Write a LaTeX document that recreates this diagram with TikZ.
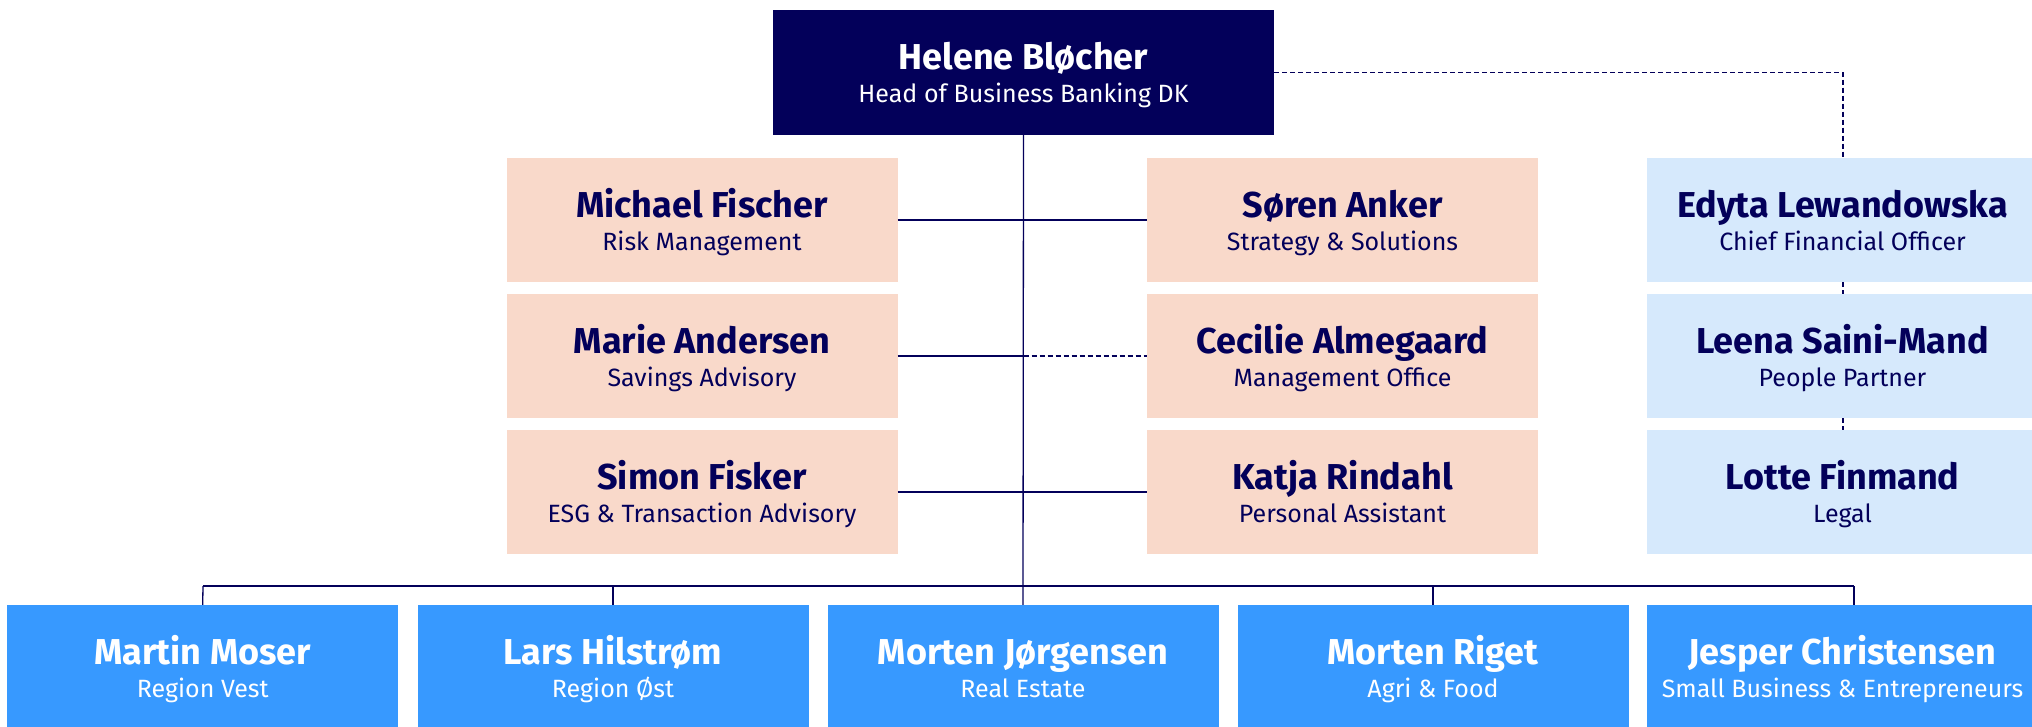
\documentclass[tikz,border=0pt]{standalone}
\usepackage{fontspec}
\setmainfont{Fira Sans}
\definecolor{navy}{RGB}{3,0,90}
\definecolor{peach}{RGB}{249,217,202}
\definecolor{paleblue}{RGB}{214,233,252}
\definecolor{brightblue}{RGB}{55,153,255}
\newcommand{\orgbox}[7]{%
  \node[#4] (#1) at (#2,#3) {};
  \node[nametext, #5, anchor=base] (#1n) at ([yshift=3pt]#1.center) {#6};
  \node[roletext, #5, anchor=base] (#1r) at ([yshift=-30pt]#1.center) {#7};
}
\begin{document}
\begin{tikzpicture}[x=1pt,y=-1pt,
  box/.style={rectangle, inner sep=0pt, draw=none, minimum width=391pt, minimum height=124pt},
  headbox/.style={box, fill=navy, minimum width=501pt, minimum height=125pt},
  peachbox/.style={box, fill=peach},
  palebox/.style={box, fill=paleblue},
  bluebox/.style={box, fill=brightblue},
  ink/.style={text=navy},
  light/.style={text=white},
  nametext/.style={inner sep=0pt, font=\fontsize{36}{42}\selectfont\bfseries},
  roletext/.style={inner sep=0pt, font=\fontsize{25}{30}\selectfont},
  link/.style={draw=navy, line width=1.3pt},
  dotlink/.style={draw=navy, line width=1.3pt, dash pattern=on 5pt off 3pt}]
\useasboundingbox (0,0) rectangle (2032,726);
% head
\orgbox{head}{1023.5}{72.5}{headbox}{light}{Helene Bløcher}{Head of Business Banking DK}
% staff left
\orgbox{mf}{702}{220}{peachbox}{ink}{Michael Fischer}{Risk Management}
\orgbox{ma}{702}{356}{peachbox}{ink}{Marie Andersen}{Savings Advisory}
\orgbox{sf}{702}{492}{peachbox}{ink}{Simon Fisker}{ESG \& Transaction Advisory}
% staff right
\orgbox{sa}{1342.5}{220}{peachbox}{ink}{Søren Anker}{Strategy \& Solutions}
\orgbox{ca}{1342.5}{356}{peachbox}{ink}{Cecilie Almegaard}{Management Office}
\orgbox{kr}{1342.5}{492}{peachbox}{ink}{Katja Rindahl}{Personal Assistant}
% dotted line column
\orgbox{el}{1842.5}{220}{palebox}{ink}{Edyta Lewandowska}{Chief Financial Officer}
\orgbox{ls}{1842.5}{356}{palebox}{ink}{Leena Saini-Mand}{People Partner}
\orgbox{lf}{1842.5}{492}{palebox}{ink}{Lotte Finmand}{Legal}
% bottom row
\orgbox{mm}{202.7}{667}{bluebox}{light}{Martin Moser}{Region Vest}
\orgbox{lh}{613}{667}{bluebox}{light}{Lars Hilstrøm}{Region Øst}
\orgbox{mj}{1023}{667}{bluebox}{light}{Morten Jørgensen}{Real Estate}
\orgbox{mr}{1433}{667}{bluebox}{light}{Morten Riget}{Agri \& Food}
\orgbox{jc}{1842.5}{667}{bluebox}{light}{Jesper Christensen}{Small Business \& Entrepreneurs}
% coordinates
\coordinate (spine) at (1023.5,586);
\coordinate (busL) at (203,586);
\coordinate (busR) at (1854,586);
\coordinate (mid2) at (1023.5,356);
\coordinate (corner) at (1843,72.5);
% connectors
\draw[link] (head.south) -- (mj.north);
\draw[link] (mf.east) -- (sa.west);
\draw[link] (sf.east) -- (kr.west);
\draw[link] (ma.east) -- (mid2);
\draw[dotlink] (mid2) -- (ca.west);
\draw[link] (busL) -- (busR);
\draw[link] (busL) -- (mm.north);
\draw[link] (lh.north |- spine) -- (lh.north);
\draw[link] (mr.north |- spine) -- (mr.north);
\draw[link] (busR) -- (busR |- jc.north);
\draw[dotlink] (head.east) -- (corner) -- (corner |- el.north);
\draw[dotlink] (corner |- el.south) -- (corner |- ls.north);
\draw[dotlink] (corner |- ls.south) -- (corner |- lf.north);
\end{tikzpicture}
\end{document}
